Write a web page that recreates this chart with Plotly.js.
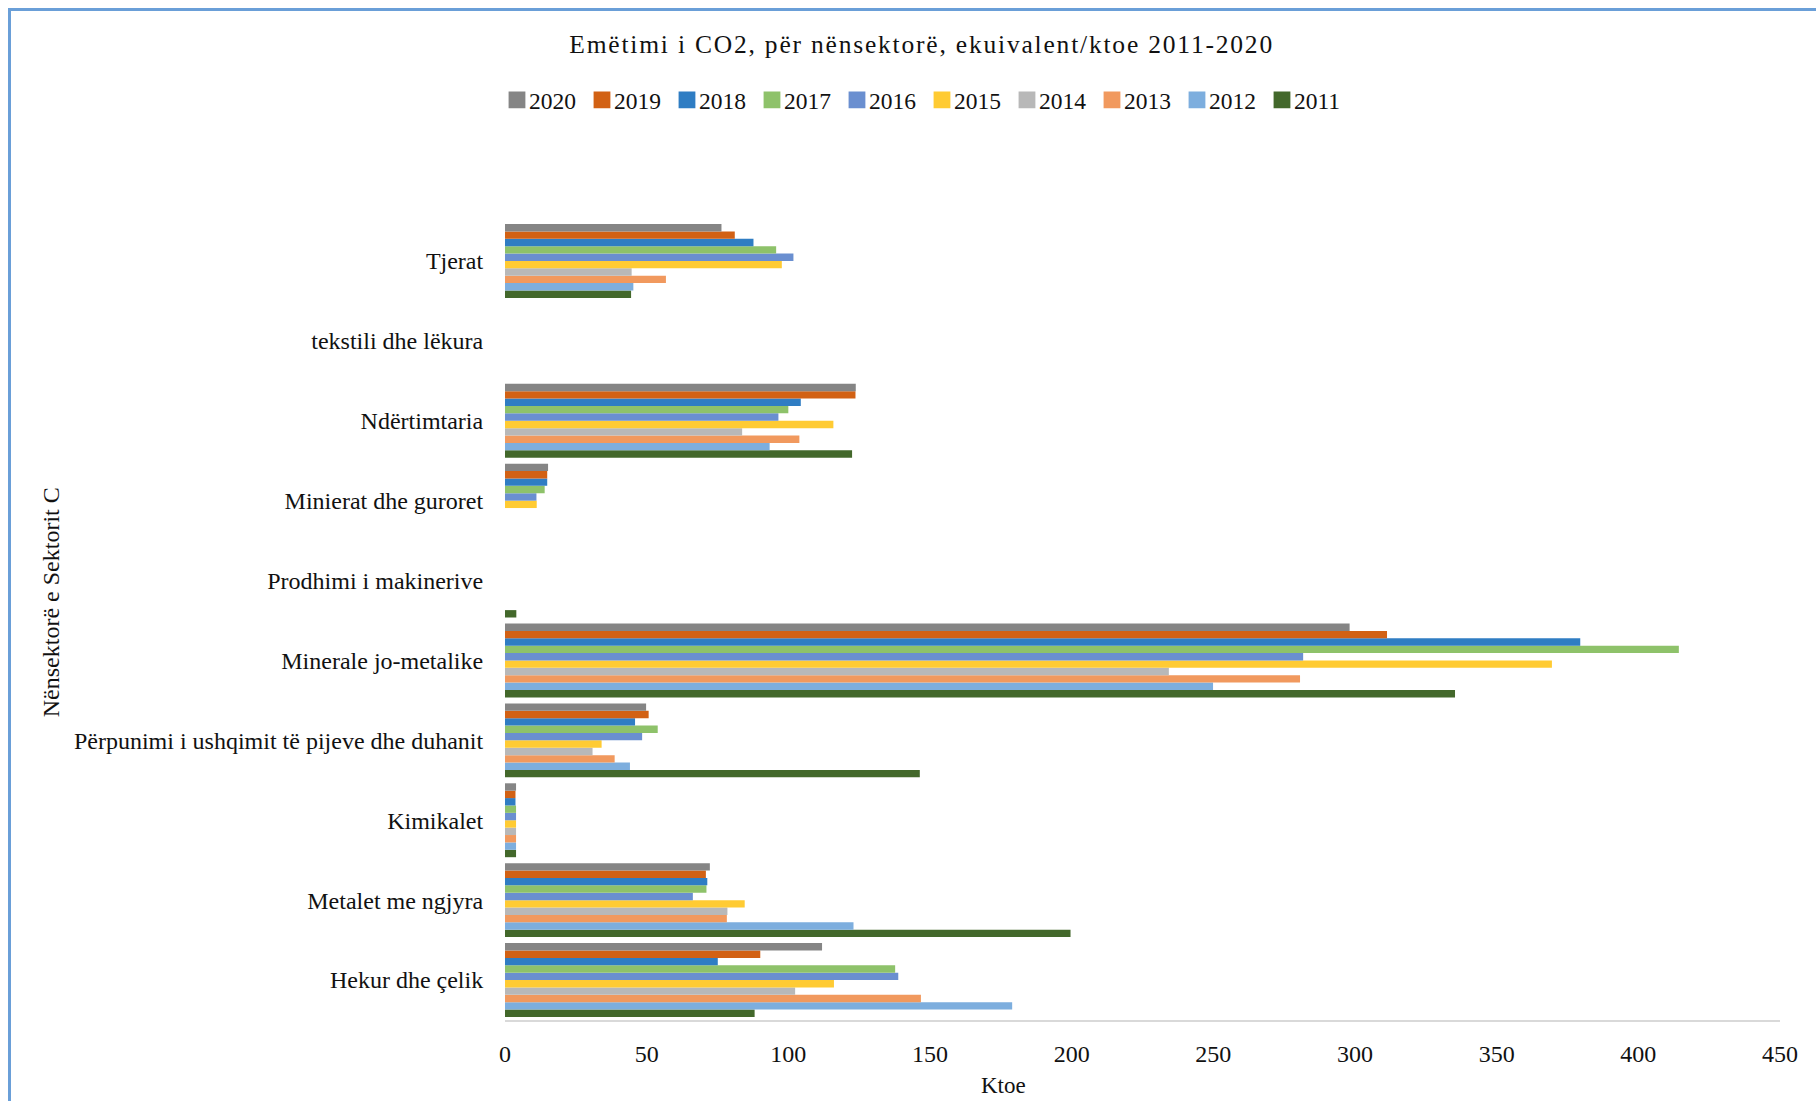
<!DOCTYPE html>
<html>
<head>
<meta charset="utf-8">
<script src="https://cdn.plot.ly/plotly-3.0.1.min.js"></script>
<style>
  html, body { margin: 0; padding: 0; background: #fff; }
  #wrap { position: relative; width: 1816px; height: 1101px; overflow: hidden; }
  #chart { position: absolute; left: 0; top: 0; width: 1816px; height: 1101px; }
  #frame { position: absolute; left: 8px; top: 8px; right: -10px; bottom: -10px;
           border-left: 3px solid #6A9FD8; border-top: 3px solid #6A9FD8; pointer-events: none; }
  .gtitle { letter-spacing: 1.8px; }
  .legend .legendpoints path { transform: translate(24px, 0px) scale(1.4); }
  .legend .legendtext { transform: translateX(-4px); }
</style>
</head>
<body>
<div id="wrap">
  <div id="chart"></div>
  <div id="frame"></div>
</div>
<script>
// Categories, bottom to top
const categories = [
  "Hekur dhe çelik",
  "Metalet me ngjyra",
  "Kimikalet",
  "Përpunimi i ushqimit të pijeve dhe duhanit",
  "Minerale jo-metalike",
  "Prodhimi i makinerive",
  "Minierat dhe guroret",
  "Ndërtimtaria",
  "tekstili dhe lëkura",
  "Tjerat"
];

// Values (Ktoe), same order as categories
const v2011 = [88.1, 199.6, 3.9, 146.4, 335.3, 4.0, null, 122.5, null, 44.5];
const v2012 = [179.0, 123.0, 3.9, 44.1, 249.9, null, null, 93.4, null, 45.3];
const v2013 = [146.8, 78.3, 3.9, 38.7, 280.6, null, null, 103.9, null, 56.8];
const v2014 = [102.4, 78.5, 3.9, 30.9, 234.3, null, null, 83.7, null, 44.7];
const v2015 = [116.1, 84.6, 3.9, 34.1, 369.5, null, 11.2, 115.9, null, 97.7];
const v2016 = [138.8, 66.3, 3.9, 48.4, 281.7, null, 11.1, 96.5, null, 101.8];
const v2017 = [137.7, 71.1, 3.9, 53.9, 414.3, null, 14.0, 100.0, null, 95.7];
const v2018 = [75.1, 71.4, 3.7, 45.9, 379.5, null, 14.9, 104.4, null, 87.7];
const v2019 = [90.1, 70.9, 3.7, 50.7, 311.3, null, 14.9, 123.7, null, 81.1];
const v2020 = [111.9, 72.3, 3.9, 49.8, 298.1, null, 15.2, 123.8, null, 76.4];

const years = ["2011","2012","2013","2014","2015","2016","2017","2018","2019","2020"];
const seriesValues = [v2011, v2012, v2013, v2014, v2015, v2016, v2017, v2018, v2019, v2020];
const colors = ["#43682B","#7DAEDE","#F1995E","#B8B8B8","#FFCB33","#6A8FD0","#8EC26A","#2F7DC3","#D26114","#858585"];

const xTicks = [0, 50, 100, 150, 200, 250, 300, 350, 400, 450];

const traces = years.map((yr, i) => ({
  type: "bar",
  orientation: "h",
  name: yr,
  y: categories,
  x: seriesValues[i],
  marker: { color: colors[i], line: { width: 0 } },
  hoverinfo: "x+y+name"
}));

const FONT = "Liberation Serif, Times New Roman, serif";

const layout = {
  width: 1816,
  height: 1101,
  paper_bgcolor: "#ffffff",
  plot_bgcolor: "#ffffff",
  font: { family: FONT, color: "#111111", size: 22 },
  margin: { l: 505, r: 36, t: 221, b: 81, autoexpand: false },
  barmode: "group",
  bargap: 0.075,
  bargroupgap: 0,
  title: {
    text: "Emëtimi i CO2, për nënsektorë, ekuivalent/ktoe 2011-2020",
    font: { family: FONT, size: 25.5, color: "#111111" },
    x: 0.5075, xref: "container", xanchor: "center",
    y: 0.96, yref: "container", yanchor: "middle"
  },
  showlegend: true,
  legend: {
    orientation: "h",
    traceorder: "reversed",
    xref: "container", x: 0.5055, xanchor: "center",
    yref: "container", y: 0.909, yanchor: "middle",
    font: { family: FONT, size: 23.5, color: "#111111" },
    itemwidth: 30,
    entrywidth: 40,
    entrywidthmode: "pixels",
    bgcolor: "rgba(0,0,0,0)"
  },
  xaxis: {
    range: [0, 450],
    tickvals: xTicks,
    ticktext: xTicks.map(String),
    showgrid: false,
    zeroline: false,
    showline: true,
    linecolor: "#D9D9D9",
    linewidth: 1.5,
    ticks: "outside",
    ticklen: 11,
    tickcolor: "rgba(0,0,0,0)",
    tickfont: { family: FONT, size: 24, color: "#111111" },
    automargin: false,
    fixedrange: true
  },
  yaxis: {
    type: "category",
    categoryorder: "array",
    categoryarray: categories,
    range: [-0.5, 9.5],
    showgrid: false,
    zeroline: false,
    showline: false,
    ticks: "outside",
    ticklen: 16,
    tickcolor: "rgba(0,0,0,0)",
    tickfont: { family: FONT, size: 24, color: "#111111" },
    automargin: false,
    fixedrange: true
  },
  annotations: [
    {
      text: "Ktoe",
      xref: "paper", yref: "paper",
      x: 0.3906, y: -0.0814,
      xanchor: "center", yanchor: "middle",
      showarrow: false,
      font: { family: FONT, size: 23, color: "#111111" }
    },
    {
      text: "Nënsektorë e Sektorit C",
      xref: "paper", yref: "paper",
      x: -0.356, y: 0.523,
      xanchor: "center", yanchor: "middle",
      textangle: -90,
      showarrow: false,
      font: { family: FONT, size: 24, color: "#111111" }
    }
  ]
};

Plotly.newPlot("chart", traces, layout, { displayModeBar: false, staticPlot: false });
</script>
</body>
</html>
